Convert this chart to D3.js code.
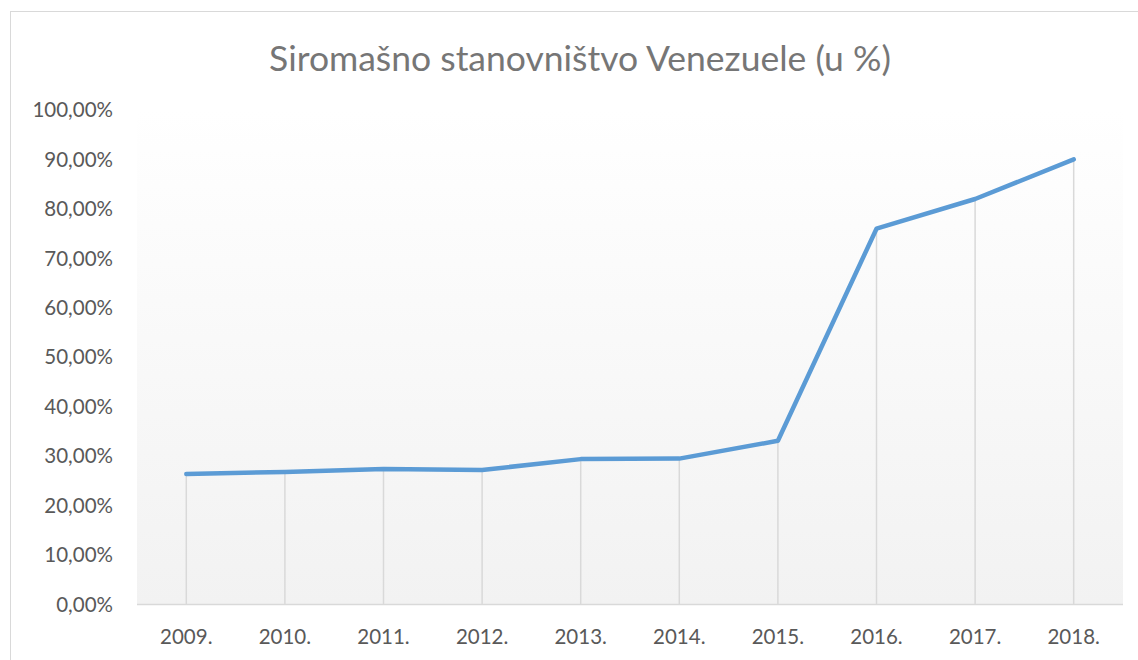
<!DOCTYPE html>
<html>
<head>
<meta charset="utf-8">
<script src="https://cdn.jsdelivr.net/npm/d3@7"></script>
<style>
  body { margin: 0; background: #fff; }
  svg { display: block; font-family: Lato, "Open Sans", sans-serif; }
</style>
</head>
<body>
<svg id="chart" width="1138" height="660"></svg>
<script>
// poverty share by year (percent)
var years = ['2009.', '2010.', '2011.', '2012.', '2013.', '2014.', '2015.', '2016.', '2017.', '2018.'];
var poverty = [26.4, 26.8, 27.4, 27.2, 29.4, 29.5, 33.1, 76.0, 82.0, 90.0];
var yTicks = [0, 10, 20, 30, 40, 50, 60, 70, 80, 90, 100];
var title = 'Siromašno stanovništvo Venezuele (u %)';

var svg = d3.select('#chart');
var plotLeft = 137, plotRight = 1123, plotTop = 110, plotBottom = 604.5;

// chart border
svg.append('rect')
  .attr('x', 10.5).attr('y', 11.5)
  .attr('width', 1200).attr('height', 700)
  .attr('fill', 'none').attr('stroke', '#d9d9d9');

var defs = svg.append('defs');
var grad = defs.append('linearGradient')
  .attr('id', 'bg').attr('x1', 0).attr('y1', 0).attr('x2', 0).attr('y2', 1);
grad.append('stop').attr('offset', '0%').attr('stop-color', '#ffffff');
grad.append('stop').attr('offset', '100%').attr('stop-color', '#f2f2f2');

svg.append('rect')
  .attr('x', plotLeft).attr('y', plotTop)
  .attr('width', plotRight - plotLeft).attr('height', plotBottom - plotTop)
  .attr('fill', 'url(#bg)');

var x = d3.scaleBand().domain(years).range([plotLeft, plotRight]);
var y = d3.scaleLinear().domain([0, 100]).range([plotBottom, plotTop]);
function cx(d) { return x(d) + x.bandwidth() / 2; }

svg.append('text')
  .attr('x', 580).attr('y', 71)
  .attr('text-anchor', 'middle')
  .attr('font-size', 35.5)
  .attr('fill', '#767676')
  .text(title);

// drop lines
svg.selectAll('.drop')
  .data(years)
  .enter()
  .append('line')
  .attr('class', 'drop')
  .attr('x1', cx).attr('x2', cx)
  .attr('y1', function(d, i) { return y(poverty[i]); })
  .attr('y2', plotBottom)
  .attr('stroke', '#d9d9d9')
  .attr('stroke-width', 1.5);

// x axis
svg.append('line')
  .attr('x1', plotLeft).attr('x2', plotRight)
  .attr('y1', plotBottom).attr('y2', plotBottom)
  .attr('stroke', '#d9d9d9').attr('stroke-width', 1.5);

svg.selectAll('.xlab')
  .data(years)
  .enter()
  .append('text')
  .attr('class', 'xlab')
  .attr('x', cx)
  .attr('y', 644)
  .attr('text-anchor', 'middle')
  .attr('font-size', 20.5)
  .attr('fill', '#595959')
  .text(function(d) { return d; });

// y labels
svg.selectAll('.ylab')
  .data(yTicks)
  .enter()
  .append('text')
  .attr('class', 'ylab')
  .attr('x', 113)
  .attr('y', function(d) { return y(d); })
  .attr('dy', '0.35em')
  .attr('text-anchor', 'end')
  .attr('font-size', 20.5)
  .attr('fill', '#595959')
  .text(function(d) { return d.toFixed(2).replace('.', ',') + '%'; });

var line = d3.line()
  .x(function(d, i) { return cx(years[i]); })
  .y(function(d) { return y(d); });

svg.append('path')
  .datum(poverty)
  .attr('d', line)
  .attr('fill', 'none')
  .attr('stroke', '#5b9bd5')
  .attr('stroke-width', 4.5)
  .attr('stroke-linejoin', 'round')
  .attr('stroke-linecap', 'round');
</script>
</body>
</html>
